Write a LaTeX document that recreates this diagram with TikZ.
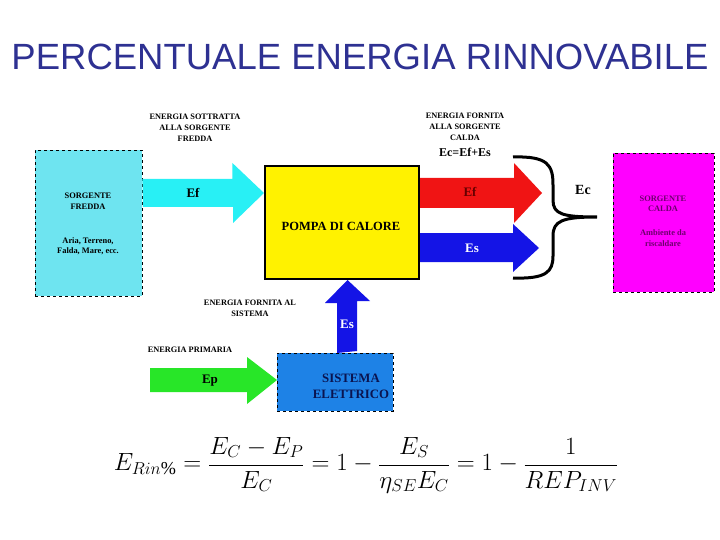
\documentclass[tikz,border=0pt]{standalone}
\usepackage{fontspec}
\setmainfont{Liberation Serif}
\newfontfamily\titlefont{Liberation Sans}
\usetikzlibrary{positioning}
\definecolor{titleblue}{RGB}{46,49,146}
\definecolor{coldbox}{RGB}{110,228,240}
\definecolor{coldarrow}{RGB}{40,240,245}
\definecolor{hotbox}{RGB}{255,0,255}
\definecolor{hottext}{RGB}{110,0,110}
\definecolor{elbox}{RGB}{30,130,230}
\definecolor{eltext}{RGB}{10,20,80}
\definecolor{redarrow}{RGB}{240,20,20}
\definecolor{bluearrow}{RGB}{20,20,230}
\definecolor{greenarrow}{RGB}{40,230,40}
\tikzset{
  note/.style={font=\bfseries\fontsize{8.3}{11}\selectfont, align=center, inner sep=0},
  boxtext/.style={font=\bfseries\fontsize{8.4}{10.5}\selectfont, align=center, inner sep=0},
  flow/.style={font=\bfseries\fontsize{13}{14}\selectfont, inner sep=0},
  source/.style={draw, dashed, anchor=north west, inner sep=0}
}
\begin{document}
\begin{tikzpicture}[x=1pt, y=-1pt]
\useasboundingbox (0,0) rectangle (720,540);
\node[font=\titlefont\fontsize{36.5}{38}\selectfont, text=titleblue] (title) at (360,57) {PERCENTUALE ENERGIA RINNOVABILE};

% sorgenti e pompa
\node[source, fill=coldbox, minimum width=107, minimum height=146] (cold) at (35,150) {};
\node[boxtext] (coldname) at (88,201) {SORGENTE\\FREDDA};
\node[boxtext] (colddesc) at (88,246) {Aria, Terreno,\\Falda, Mare, ecc.};
\node[source, fill=hotbox, minimum width=101, minimum height=139] (hot) at (613,153) {};
\node[boxtext, text=hottext] (hotname) at (663,204) {SORGENTE\\CALDA};
\node[boxtext, text=hottext] (hotdesc) at (663,238) {Ambiente da\\riscaldare};
\node[draw, line width=2pt, fill=yellow, anchor=north west, minimum width=154, minimum height=113] (pump) at (264,165) {};
\node[font=\bfseries\fontsize{12.5}{13}\selectfont] (pumpname) at (341,226) {POMPA DI CALORE};
\node[source, fill=elbox, minimum width=116, minimum height=58] (el) at (277,353) {};
\node[font=\bfseries\fontsize{12.8}{16}\selectfont, align=center, text=eltext] (elname) at (351,386) {SISTEMA\\ELETTRICO};

% frecce
\fill[coldarrow] (cold.east |- 0,179) -- ++(90,0) -- ++(0,-16) -- (pump.west |- 0,193) -- ++(-31,30) -- ++(0,-16) -- ++(-90,0) -- cycle;
\fill[redarrow] (pump.east |- 0,178) -- ++(94,0) -- ++(0,-15) -- ++(28,30) -- ++(-28,30) -- ++(0,-15) -- ++(-94,0) -- cycle;
\fill[bluearrow] (pump.east |- 0,233) -- ++(93,0) -- ++(0,-9) -- ++(26,24) -- ++(-26,24) -- ++(0,-10) -- ++(-93,0) -- cycle;
\fill[bluearrow] (el.north -| 337,0) -- ++(0,-50) -- ++(-12,0) -- (pump.south -| 347.5,0) -- ++(22.5,21) -- ++(-13,0) -- ++(0,50) -- cycle;
\fill[greenarrow] (150,368) -- ++(97,0) -- ++(0,-11) -- (el.west |- 0,380) -- ++(-30,24) -- ++(0,-12) -- ++(-97,0) -- cycle;
\node[flow] (efcold) at (193,193) {Ef};
\node[flow, text=red!40!black] (efhot) at (470,192) {Ef};
\node[flow, text=white] (eshot) at (472,248) {Es};
\node[flow, text=white] (esup) at (347,324) {Es};
\node[flow] (ep) at (210,381) {Ep};

% graffa
\draw[line width=3pt] (513,157) .. controls (548,156) and (553,165) .. (553,185) -- (553,200)
  .. controls (553,214) and (562,217) .. (597,217) coordinate (tipc)
  .. controls (562,217) and (553,221) .. (553,236) -- (553,256)
  .. controls (553,272) and (546,279) .. (513,278);
\node[flow, font=\bfseries\fontsize{14}{15}\selectfont] (ec) at (583,190) {Ec};

% didascalie
\node[note] (sottratta) at (195,128) {ENERGIA SOTTRATTA\\ALLA SORGENTE\\FREDDA};
\node[note] (fornita) at (465,127) {ENERGIA FORNITA\\ALLA SORGENTE\\CALDA};
\node[font=\bfseries\fontsize{12}{13}\selectfont] (bilancio) at (465,152) {Ec=Ef+Es};
\node[note] (sistema) at (250,308) {ENERGIA FORNITA AL\\SISTEMA};
\node[note] (primaria) at (190,350) {ENERGIA PRIMARIA};

\node[font=\fontsize{26}{30}\selectfont] (formula) at (366,465)
  {$\displaystyle E_{Rin\%}=\frac{E_C-E_P}{E_C}=1-\frac{E_S}{\eta_{SE}E_C}=1-\frac{1}{REP_{INV}}$};
\end{tikzpicture}
\end{document}
